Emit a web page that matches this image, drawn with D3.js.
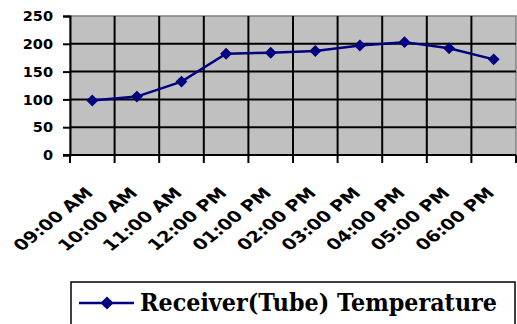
<!DOCTYPE html>
<html>
<head>
<meta charset="utf-8">
<script src="https://cdn.jsdelivr.net/npm/d3@7"></script>
<style>
  body { margin: 0; background: #fff; }
  svg { display: block; }
</style>
</head>
<body>
<svg id="chart" width="517" height="324"></svg>
<script>
// datos
const categories = ["09:00 AM", "10:00 AM", "11:00 AM", "12:00 PM", "01:00 PM",
                    "02:00 PM", "03:00 PM", "04:00 PM", "05:00 PM", "06:00 PM"];
const tubeTemp = [98, 105, 132, 182, 184, 187, 197, 203, 192, 172];
const yTicks = [0, 50, 100, 150, 200, 250];
const seriesName = "Receiver(Tube) Temperature";

const svg = d3.select("#chart");
const plot = { left: 70, top: 16, right: 516, bottom: 155 };

const x = d3.scaleBand()
    .domain(categories)
    .range([plot.left, plot.right]);

const y = d3.scaleLinear()
    .domain([0, 250])
    .range([plot.bottom, plot.top]);

// fondo del área de trazado
svg.append("rect")
   .attr("x", plot.left)
   .attr("y", plot.top)
   .attr("width", plot.right - plot.left)
   .attr("height", plot.bottom - plot.top)
   .attr("fill", "#c0c0c0")
   .attr("stroke", "#808080")
   .attr("stroke-width", 1.5);

// líneas de cuadrícula horizontales
svg.append("g")
   .selectAll("line")
   .data(yTicks.filter(d => d > 0 && d < 250))
   .enter()
   .append("line")
   .attr("x1", plot.left)
   .attr("x2", plot.right)
   .attr("y1", d => y(d))
   .attr("y2", d => y(d))
   .attr("stroke", "#000")
   .attr("stroke-width", 2);

// líneas de cuadrícula verticales (entre categorías)
const bounds = categories.slice(1).map(c => x(c));
svg.append("g")
   .selectAll("line")
   .data(bounds)
   .enter()
   .append("line")
   .attr("x1", d => d)
   .attr("x2", d => d)
   .attr("y1", plot.top)
   .attr("y2", plot.bottom)
   .attr("stroke", "#000")
   .attr("stroke-width", 2);

// eje Y
const yAxis = svg.append("g")
   .attr("transform", `translate(${plot.left},0)`)
   .call(d3.axisLeft(y).tickValues(yTicks).tickSize(7).tickPadding(10));
yAxis.select(".domain").attr("stroke", "#000").attr("stroke-width", 2);
yAxis.selectAll(".tick line").attr("stroke", "#000").attr("stroke-width", 2);
yAxis.selectAll("text")
   .attr("font-family", "DejaVu Sans")
   .attr("font-weight", "bold")
   .attr("font-size", "14.5px")
   .attr("fill", "#000");

// eje X con marcas entre categorías
const xAxis = svg.append("g")
   .attr("transform", `translate(0,${plot.bottom})`);
xAxis.append("line")
   .attr("x1", plot.left - 7)
   .attr("x2", plot.right)
   .attr("stroke", "#000")
   .attr("stroke-width", 2);
xAxis.selectAll("line.tick")
   .data(categories.map(c => x(c)).concat([plot.right]))
   .enter()
   .append("line")
   .attr("class", "tick")
   .attr("x1", d => d)
   .attr("x2", d => d)
   .attr("y1", 0)
   .attr("y2", 8)
   .attr("stroke", "#000")
   .attr("stroke-width", 2);

// etiquetas giradas (un poco estiradas en horizontal como en el original)
xAxis.selectAll("text")
   .data(categories)
   .enter()
   .append("text")
   .attr("transform", d => `translate(${x(d) + x.bandwidth() / 2 + 1.7},${39}) scale(1.25,1) rotate(-45)`)
   .attr("text-anchor", "end")
   .attr("font-family", "DejaVu Sans")
   .attr("font-weight", "bold")
   .attr("font-size", "15.5px")
   .attr("fill", "#000")
   .text(d => d);

// serie
const cx = d => x(d) + x.bandwidth() / 2;
const line = d3.line()
   .x((d, i) => cx(categories[i]))
   .y(d => y(d));

svg.append("path")
   .datum(tubeTemp)
   .attr("d", line)
   .attr("fill", "none")
   .attr("stroke", "#000080")
   .attr("stroke-width", 2.5);

const diamond = d3.symbol().type(d3.symbolDiamond2).size(90);
svg.append("g")
   .selectAll("path")
   .data(tubeTemp)
   .enter()
   .append("path")
   .attr("d", diamond)
   .attr("transform", (d, i) => `translate(${cx(categories[i])},${y(d)})`)
   .attr("fill", "#000080");

// leyenda (el recuadro queda cortado por el borde inferior)
const legend = svg.append("g");
legend.append("rect")
   .attr("x", 71)
   .attr("y", 282)
   .attr("width", 444)
   .attr("height", 43)
   .attr("fill", "#fff")
   .attr("stroke", "#000")
   .attr("stroke-width", 1.5);
legend.append("line")
   .attr("x1", 79)
   .attr("x2", 134)
   .attr("y1", 303)
   .attr("y2", 303)
   .attr("stroke", "#000080")
   .attr("stroke-width", 2.5);
legend.append("path")
   .attr("d", d3.symbol().type(d3.symbolDiamond2).size(110))
   .attr("transform", "translate(107,303)")
   .attr("fill", "#000080");
legend.append("text")
   .attr("x", 140)
   .attr("y", 310.5)
   .attr("font-family", "DejaVu Serif")
   .attr("font-weight", "bold")
   .attr("font-size", "23.5px")
   .attr("textLength", 357)
   .attr("lengthAdjust", "spacingAndGlyphs")
   .attr("fill", "#000")
   .text(seriesName);
</script>
</body>
</html>
